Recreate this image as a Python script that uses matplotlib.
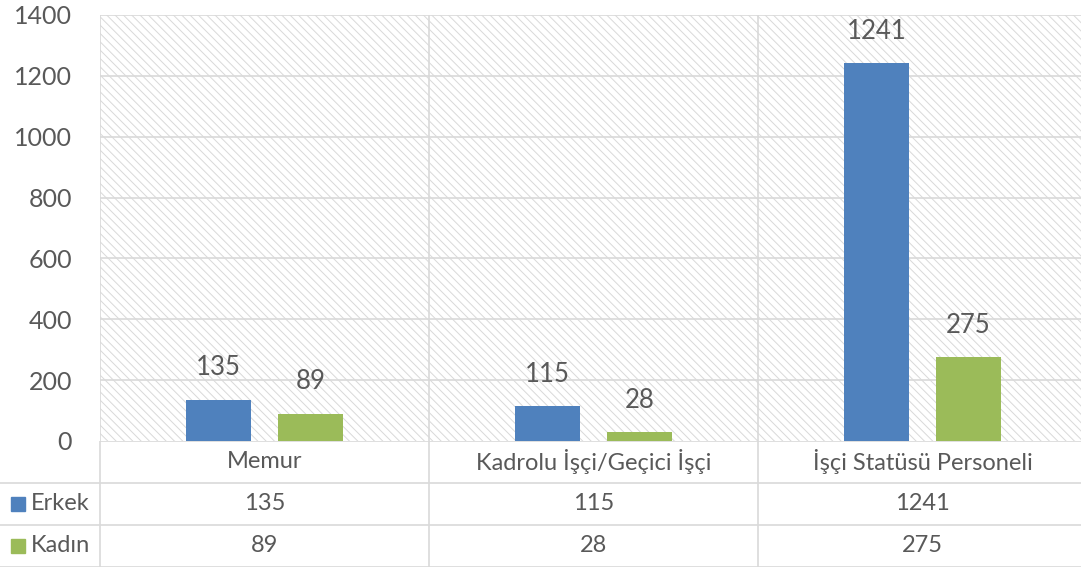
import numpy as np
import matplotlib
matplotlib.use('Agg')
from matplotlib import pyplot as plt
from matplotlib.patches import Rectangle
from matplotlib.transforms import blended_transform_factory

categories = ['Memur', 'Kadrolu İşçi/Geçici İşçi', 'İşçi Statüsü Personeli']
series_names = ['Erkek', 'Kadın']
erkek = [135, 115, 1241]
kadin = [89, 28, 275]
y_ticks = [0, 200, 400, 600, 800, 1000, 1200, 1400]

blue = '#4F81BD'
green = '#9BBB59'
text_col = '#595959'
grid_col = '#d9d9d9'

plt.rcParams['font.family'] = ['Lato', 'DejaVu Sans']
plt.rcParams['hatch.color'] = grid_col
plt.rcParams['hatch.linewidth'] = 0.7

W, H = 1081, 572
cw = 329  # px per category column
fig = plt.figure(figsize=(W / 100, H / 100), dpi=100)

# main plot area
ax = fig.add_axes([100 / W, (H - 441) / H, 981 / W, 426 / H])
ax.set_xlim(0, 981 / cw)
ax.set_ylim(0, 1400)
ax.add_patch(Rectangle((0, 0), 1, 1, transform=ax.transAxes, facecolor='white',
                       edgecolor=grid_col, hatch='\\\\\\\\', linewidth=0, zorder=0))
for s in ax.spines.values():
    s.set_visible(False)
ax.set_yticks(y_ticks)
ax.tick_params(axis='y', length=0, pad=20, labelsize=18, labelcolor=text_col)
ax.set_xticks([])
for y in y_ticks[1:]:
    ax.axhline(y, color=grid_col, lw=1.2, zorder=1)
for x in range(3):
    ax.axvline(x, color=grid_col, lw=1.2, zorder=1)

x = np.arange(len(categories)) + 0.5
b1 = ax.bar(x - 0.14, erkek, 0.195, color=blue, zorder=3)
b2 = ax.bar(x + 0.14, kadin, 0.195, color=green, zorder=3)
ax.bar_label(b1, padding=14, fontsize=18.5, color=text_col)
ax.bar_label(b2, padding=14, fontsize=18.5, color=text_col)

# data table
tax = fig.add_axes([0, (H - 567) / H, 1, 126 / H])
tax.set_xlim(-100 / cw, 981 / cw)
tax.set_ylim(3, 0)
tax.axis('off')
tax.hlines(0, 0, 3, color=grid_col, lw=1.2)
tax.hlines([1, 2, 3], -100 / cw, 3, color=grid_col, lw=1.2)
tax.vlines([0, 1, 2], 0, 3, color=grid_col, lw=1.2)

for i, cat in enumerate(categories):
    tax.text(x[i], 0.5, cat, ha='center', va='center', fontsize=17, color=text_col)
    tax.text(x[i], 1.5, str(erkek[i]), ha='center', va='center', fontsize=17, color=text_col)
    tax.text(x[i], 2.5, str(kadin[i]), ha='center', va='center', fontsize=17, color=text_col)

tr = blended_transform_factory(tax.transAxes, tax.transData)
for row, (name, col) in enumerate(zip(series_names, [blue, green])):
    tax.plot([18 / W], [row + 1.5], marker='s', markersize=10, color=col, transform=tr, clip_on=False)
    tax.text(31 / W, row + 1.5, name, transform=tr, ha='left', va='center', fontsize=17, color=text_col)

fig.savefig('out.png', dpi=100)
